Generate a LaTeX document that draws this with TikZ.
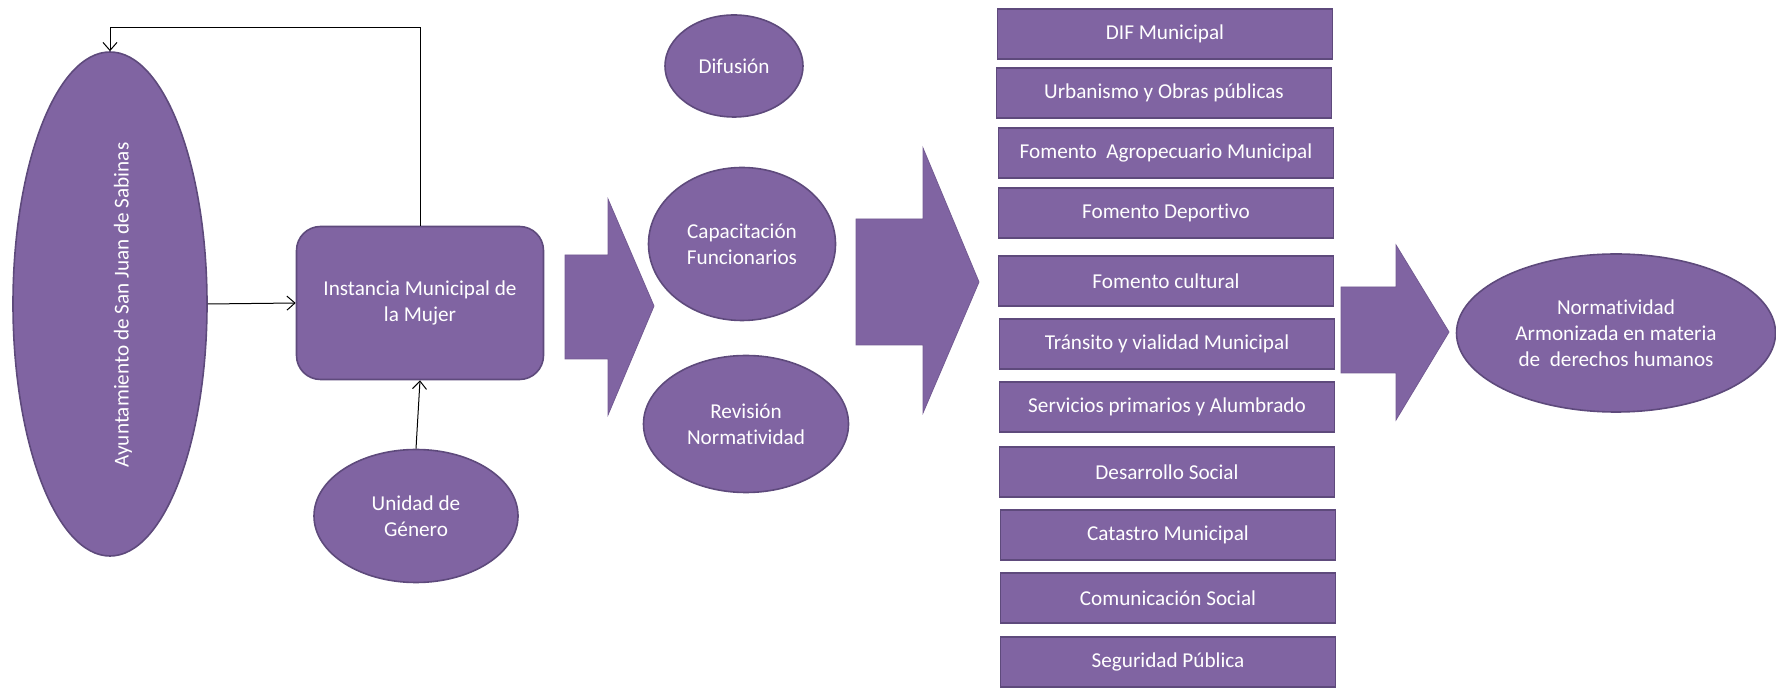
\documentclass[tikz,border=0pt]{standalone}
\usepackage{fontspec}
\setmainfont{Carlito}[Ligatures=NoCommon]
\usetikzlibrary{arrows.meta,shapes.geometric}
\definecolor{morado}{HTML}{8064A2}
\definecolor{borde}{HTML}{5E4A7C}

\begin{document}
\begin{tikzpicture}[x=.5pt,y=-.5pt,font=\fontsize{10.6}{13}\selectfont,
    ovalo/.style={ellipse,fill=morado,draw=borde,thick,text=white,align=center,inner sep=0pt},
    caja/.style={rectangle,fill=morado,draw=borde,thick,text=white,minimum width=167.5pt,minimum height=25pt,inner sep=0pt},
    bloque/.style={fill=morado,draw=morado!90!black},
    con/.style={-{Straight Barb[length=4pt,width=7pt]},black,line width=.5pt}]
      \useasboundingbox (0,0) rectangle (1776,688);
      \coordinate (T) at (420,28);
      \node[ovalo,minimum width=97pt,minimum height=252pt] (A) at (110,304) {};
      \node[rotate=90,text=white,inner sep=0pt] (At) at (123,305) {Ayuntamiento de San Juan de Sabinas};
      \node[ovalo,rectangle,rounded corners=12pt,minimum width=123.5pt,minimum height=76.5pt] (I) at (420,303) {Instancia Municipal de\\la Mujer};
      \node[ovalo,minimum width=102pt,minimum height=66.5pt] (U) at (416,516) {Unidad de\\Género};
      \draw[con](A.east)--(I.west);
      \draw[con](U.north)--(I.south);
      \draw[con](I.north)--(T)-|(A.north);
      % flechas grandes
      \draw[bloque](565,255)--(608,255)--(608,199)--(654,306)--(608,415)--(608,359)--(565,359)--cycle;
      \draw[bloque](856,219)--(923,219)--(923,148)--(979,282)--(923,413)--(923,345)--(856,345)--cycle;
      \draw[bloque](1341,287)--(1396,287)--(1396,245)--(1449,332)--(1396,420)--(1396,373)--(1341,373)--cycle;
      \node[ovalo,minimum width=69pt,minimum height=51pt] (D) at (734,66) {Difusión};
      \node[ovalo,minimum width=93.5pt,minimum height=76.5pt] (C) at (742,244) {Capacitación\\Funcionarios};
      \node[ovalo,minimum width=102.5pt,minimum height=68.5pt] (R) at (746,424) {Revisión\\Normatividad};
      \node[caja] (d1) at (1165,34) {DIF Municipal};
      \node[caja] (d2) at (1164,93) {Urbanismo y Obras públicas};
      \node[caja] (d3) at (1166,153) {Fomento\ \ Agropecuario Municipal};
      \node[caja] (d4) at (1166,213) {Fomento Deportivo};
      \node[caja] (d5) at (1166,281) {Fomento cultural};
      \node[caja] (d6) at (1167,344) {Tránsito y vialidad Municipal};
      \node[caja] (d7) at (1167,407) {Servicios primarios y Alumbrado};
      \node[caja] (d8) at (1167,472) {Desarrollo Social};
      \node[caja] (d9) at (1168,535) {Catastro Municipal};
      \node[caja] (d10) at (1168,598) {Comunicación Social};
      \node[caja] (d11) at (1168,662) {Seguridad Pública};
      \node[ovalo,minimum width=159.5pt,minimum height=79pt] (N) at (1616,333) {Normatividad\\Armonizada en materia\\de\ \ derechos humanos};
    \end{tikzpicture}
\end{document}
